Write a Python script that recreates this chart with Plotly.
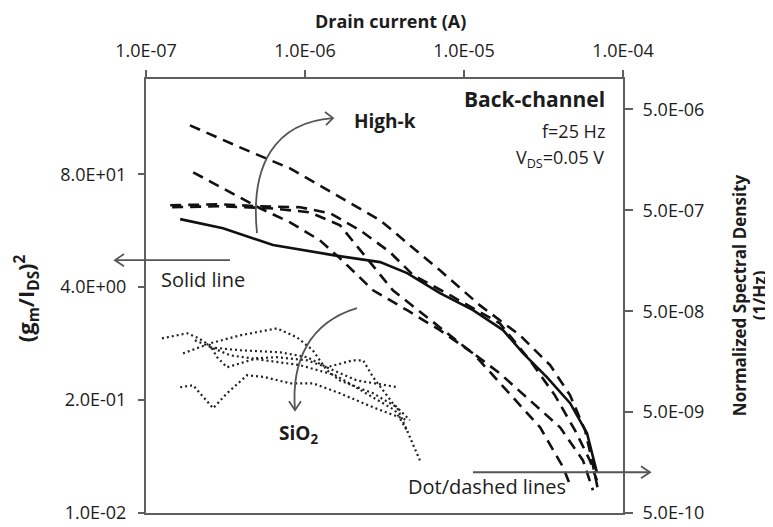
import plotly.graph_objects as go
import math

# ---------------- data ----------------
x_ticks = [1e-7, 1e-6, 1e-5, 1e-4]
x_ticktext = ["1.0E-07", "1.0E-06", "1.0E-05", "1.0E-04"]
yl_ticks = [0.01, 0.2, 4, 80]
yl_ticktext = ["1.0E-02", "2.0E-01", "4.0E+00", "8.0E+01"]
yr_ticks = [5e-10, 5e-9, 5e-8, 5e-7, 5e-6]
yr_ticktext = ["5.0E-10", "5.0E-09", "5.0E-08", "5.0E-07", "5.0E-06"]

# solid line: (gm/Ids)^2, left axis
solid_x = [1.64e-7, 3.05e-7, 6.29e-7, 1.50e-6, 2.97e-6, 4.39e-6, 7.06e-6, 1.14e-5,
           1.76e-5, 2.35e-5, 3.33e-5, 4.65e-5, 5.94e-5, 6.85e-5]
solid_y = [24.3, 19.1, 12.2, 9.35, 7.77, 5.80, 3.41, 2.17, 1.28, 0.693, 0.366,
           0.184, 0.083, 0.0294]

# dashed lines (high-k), right axis
dash1_x = [1.89e-7, 3.90e-7, 8.05e-7, 1.66e-6, 2.97e-6, 4.57e-6, 7.06e-6, 1.26e-5,
           2.25e-5, 3.48e-5, 4.65e-5, 5.77e-5, 6.38e-5, 6.97e-5]
dash1_y = [3.47e-6, 2.10e-6, 1.30e-6, 6.73e-7, 3.98e-7, 2.25e-7, 1.27e-7, 5.71e-8,
           2.88e-8, 1.46e-8, 7.33e-9, 3.30e-9, 1.66e-9, 8.40e-10]
dash2_x = [1.98e-7, 3.37e-7, 5.21e-7, 8.05e-7, 1.24e-6, 1.66e-6, 2.68e-6, 4.39e-6,
           7.06e-6, 1.14e-5, 1.86e-5, 3.01e-5, 4.20e-5, 4.65e-5]
dash2_y = [1.19e-6, 7.53e-7, 5.24e-7, 3.80e-7, 2.52e-7, 1.67e-7, 8.05e-8, 5.11e-8,
           3.24e-8, 1.91e-8, 8.22e-9, 3.53e-9, 1.42e-9, 9.42e-10]
dash3_x = [1.42e-7, 2.92e-7, 5.21e-7, 9.31e-7, 1.44e-6, 2.22e-6, 3.43e-6, 4.78e-6,
           8.17e-6, 1.68e-5, 2.60e-5, 3.73e-5, 4.99e-5, 6.19e-5, 6.85e-5]
dash3_y = [5.61e-7, 5.73e-7, 5.48e-7, 5.36e-7, 4.67e-7, 3.17e-7, 1.92e-7, 1.14e-7,
           7.20e-8, 3.79e-8, 1.63e-8, 7.33e-9, 3.30e-9, 1.66e-9, 1.05e-9]
dash4_x = [1.46e-7, 2.92e-7, 6.03e-7, 1.07e-6, 1.66e-6, 2.45e-6, 3.57e-6, 5.85e-6,
           9.44e-6, 1.68e-5, 2.72e-5, 4.02e-5, 5.60e-5, 6.47e-5]
dash4_y = [5.36e-7, 5.48e-7, 5.24e-7, 4.78e-7, 3.55e-7, 1.67e-7, 8.05e-8, 4.36e-8,
           2.40e-8, 1.21e-8, 6.11e-9, 3.53e-9, 1.66e-9, 8.40e-10]

# dotted lines (SiO2), right axis
dot1_x = [1.26e-7, 1.81e-7, 2.09e-7, 2.53e-7, 2.80e-7, 3.23e-7, 3.90e-7, 4.99e-7,
          6.67e-7, 1.03e-6, 1.37e-6, 2.00e-6, 2.32e-6, 2.68e-6, 3.57e-6, 4.57e-6]
dot1_y = [2.69e-8, 3.02e-8, 2.75e-8, 2.30e-8, 1.75e-8, 1.39e-8, 1.52e-8, 1.71e-8,
          1.75e-8, 1.63e-8, 1.39e-8, 1.63e-8, 1.63e-8, 1.11e-8, 6.11e-9, 4.15e-9]
dot2_x = [1.71e-7, 2.53e-7, 3.90e-7, 6.67e-7, 8.91e-7, 1.12e-6, 1.37e-6, 1.66e-6,
          2.68e-6, 3.79e-6, 5.28e-6]
dot2_y = [1.91e-8, 2.40e-8, 2.88e-8, 3.38e-8, 2.75e-8, 2.05e-8, 1.30e-8, 1.03e-8,
          7.67e-9, 5.58e-9, 1.66e-9]
dot3_x = [2.53e-7, 3.90e-7, 6.97e-7, 1.03e-6, 1.37e-6, 2.12e-6, 3.85e-6]
dot3_y = [2.19e-8, 2.05e-8, 1.96e-8, 1.75e-8, 1.39e-8, 1.03e-8, 8.81e-9]
dot4_x = [1.64e-7, 1.98e-7, 2.64e-7, 3.23e-7, 4.32e-7, 5.60e-7, 8.05e-7, 1.12e-6,
          1.66e-6, 2.68e-6, 4.39e-6]
dot4_y = [8.81e-9, 9.22e-9, 5.46e-9, 7.67e-9, 1.16e-8, 1.11e-8, 9.64e-9, 9.64e-9,
          7.67e-9, 5.58e-9, 4.15e-9]
dot5_x = [2.03e-7, 3.37e-7, 5.60e-7, 9.31e-7, 1.55e-6, 2.56e-6, 3.68e-6, 4.45e-6]
dot5_y = [2.57e-8, 1.83e-8, 1.63e-8, 1.46e-8, 1.16e-8, 7.33e-9, 5.21e-9, 3.16e-9]

# ---------------- figure ----------------
PAGE_W, PAGE_H = 773, 527
OFF = 8                      # default body margin of the html page
BOX_L, BOX_R, BOX_T, BOX_B = 146, 623, 79, 512.7   # plot box in page pixels
W, H = PAGE_W - OFF, PAGE_H - OFF
L = BOX_L - OFF
T = BOX_T - OFF
R = PAGE_W - BOX_R
B = PAGE_H - BOX_B
FONT = "Open Sans"
AX = "#5f5f5f"
TXT = "#1c1c1c"

fig = go.Figure()

fig.add_trace(go.Scatter(x=solid_x, y=solid_y, mode="lines", yaxis="y",
                         line=dict(color="#111111", width=2.6), showlegend=False))
for xs, ys in [(dash1_x, dash1_y), (dash2_x, dash2_y), (dash3_x, dash3_y), (dash4_x, dash4_y)]:
    fig.add_trace(go.Scatter(x=xs, y=ys, mode="lines", yaxis="y2",
                             line=dict(color="#111111", width=2.6, dash="11px,7px"),
                             showlegend=False))
for xs, ys in [(dot1_x, dot1_y), (dot2_x, dot2_y), (dot3_x, dot3_y), (dot4_x, dot4_y), (dot5_x, dot5_y)]:
    fig.add_trace(go.Scatter(x=xs, y=ys, mode="lines", yaxis="y2",
                             line=dict(color="#222222", width=2.2, dash="2px,3px"),
                             showlegend=False))

tickfont = dict(family=FONT, size=18, color=TXT)
fig.update_layout(
    width=W, height=H,
    margin=dict(l=L, r=R, t=T, b=B, autoexpand=False),
    paper_bgcolor="white", plot_bgcolor="white",
    xaxis=dict(type="log", range=[-7, -4], side="top", tickvals=x_ticks, ticktext=x_ticktext,
               ticks="outside", ticklen=7, tickwidth=2, tickcolor=AX,
               showline=True, linecolor=AX, linewidth=2, mirror=True, automargin=False,
               showgrid=False, zeroline=False, tickfont=tickfont, ticklabelstandoff=6),
    yaxis=dict(type="log", range=[-2, 3], tickvals=yl_ticks, ticktext=yl_ticktext,
               ticks="outside", ticklen=6, tickwidth=2, tickcolor=AX, automargin=False,
               showline=True, linecolor=AX, linewidth=2,
               showgrid=False, zeroline=False, tickfont=tickfont, ticklabelstandoff=8),
    yaxis2=dict(type="log", range=[math.log10(5e-10), -5], overlaying="y", side="right",
                tickvals=yr_ticks, ticktext=yr_ticktext, automargin=False,
                ticks="outside", ticklen=8, tickwidth=2, tickcolor=AX,
                showline=True, linecolor=AX, linewidth=2,
                showgrid=False, zeroline=False, tickfont=tickfont, ticklabelstandoff=6),
)

# ---------- decorations (page pixel -> paper helpers) ----------
def px(x):
    return (x - BOX_L) / (BOX_R - BOX_L)

def py(y):
    return (BOX_B - y) / (BOX_B - BOX_T)

def pt(x, y):
    return f"{px(x):.5f},{py(y):.5f}"

def add_path(d):
    fig.add_shape(type="path", xref="paper", yref="paper", path=d,
                  line=dict(color="#555555", width=1.8))

# Solid line arrow (pointing left, out of the plot)
add_path(f"M {pt(230,260)} L {pt(115,260)}")
add_path(f"M {pt(124,254)} L {pt(115,260)} L {pt(124,266)}")
# Dot/dashed arrow (pointing right)
add_path(f"M {pt(473,472)} L {pt(650,472)}")
add_path(f"M {pt(641,466)} L {pt(650,472)} L {pt(641,478)}")
# High-k curved arrow
add_path(f"M {pt(257,233)} C {pt(250,165)} {pt(275,122)} {pt(333,118)}")
add_path(f"M {pt(325,112)} L {pt(333,118)} L {pt(326,125)}")
# SiO2 curved arrow
add_path(f"M {pt(357,308)} C {pt(310,322)} {pt(291,360)} {pt(295,410)}")
add_path(f"M {pt(289,401)} L {pt(295,410)} L {pt(301,401)}")

def ann(text, x, y, size=17, bold=False, xanchor="left", angle=0):
    fig.add_annotation(text=f"<b>{text}</b>" if bold else text, xref="paper", yref="paper",
                       x=px(x), y=py(y), xanchor=xanchor, yanchor="middle",
                       showarrow=False, textangle=angle,
                       font=dict(family=FONT, size=size, color=TXT))

ann("Drain current (A)", 390, 21, size=18, bold=True, xanchor="center")
ann("(g<sub>m</sub>/I<sub>DS</sub>)<sup>2</sup>", 26, 298, size=22, bold=True, xanchor="center", angle=-90)
ann("Normalized Spectral Density", 739, 295, size=17, bold=True, xanchor="center", angle=-90)
ann("(1/Hz)", 759, 295, size=17, bold=True, xanchor="center", angle=-90)
ann("Back-channel", 607, 99, size=21, bold=True, xanchor="right")
ann("f=25 Hz", 607, 131, size=18, xanchor="right")
ann("V<sub>DS</sub>=0.05 V", 606, 158, size=18, xanchor="right")
ann("High-k", 352, 121, size=19, bold=True)
ann("Solid line", 159, 279, size=20)
ann("SiO<sub>2</sub>", 277, 434, size=19, bold=True)
ann("Dot/dashed lines", 406, 486, size=20)

fig.write_html("out.html")
